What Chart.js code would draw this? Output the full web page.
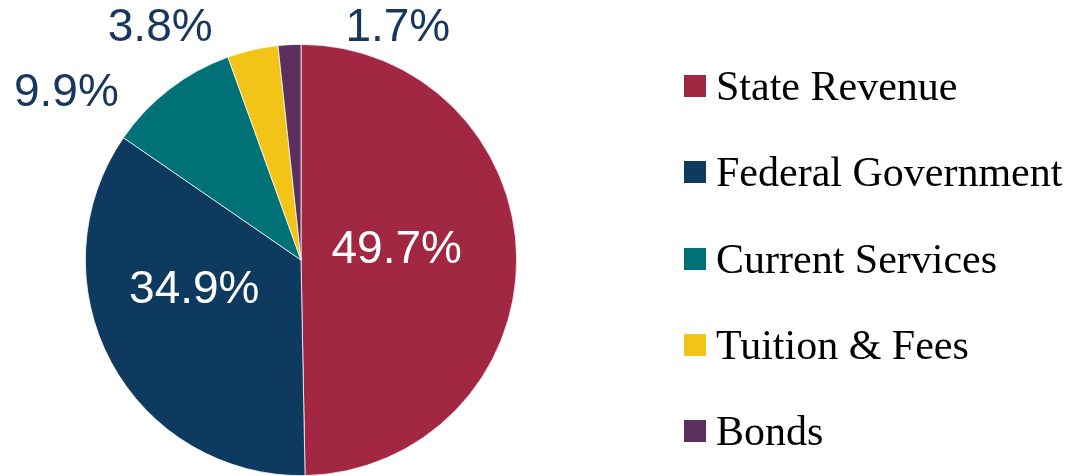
<!DOCTYPE html>
<html>
<head>
<meta charset="utf-8">
<script src="https://cdn.jsdelivr.net/npm/chart.js@4"></script>
<style>
  body { margin: 0; background: #fff; }
  #wrap { position: relative; width: 1079px; height: 476px; overflow: hidden; }
  #legend { position: absolute; left: 684px; top: 0; }
  .item { position: absolute; left: 0; height: 86px; display: flex; align-items: center; white-space: nowrap;
          font-family: "Liberation Serif", "DejaVu Serif", serif; font-size: 42px; line-height: 1; color: #000; }
  .box { width: 22px; height: 22px; margin-right: 10px; flex: none; }
</style>
</head>
<body>
<div id="wrap">
  <canvas id="pie"></canvas>
  <div id="legend"></div>
</div>
<script>
// 수입원 비율 (%)
const sources = ["State Revenue", "Federal Government", "Current Services", "Tuition & Fees", "Bonds"];
const shares = [49.7, 34.9, 9.9, 3.8, 1.7];
const sliceColors = ["#A12743", "#0F3A5F", "#007176", "#F2C418", "#5B2F5E"];

// label placement, in units of the pie radius from its centre
const labelOffsets = [[0.444, -0.046], [-0.495, 0.139], [-1.088, -0.773], [-0.653, -1.074], [0.449, -1.074]];
const labelColors = ["#ffffff", "#ffffff", "#17375E", "#17375E", "#17375E"];

const pctLabels = {
    id: 'pctLabels',
    afterDatasetsDraw(chart) {
        const ctx = chart.ctx;
        const arcs = chart.getDatasetMeta(0).data;
        ctx.save();
        ctx.font = '46px "Liberation Sans", Arial, sans-serif';
        ctx.textAlign = 'center';
        ctx.textBaseline = 'middle';
        arcs.forEach(function(arc, i) {
            const r = arc.outerRadius;
            ctx.fillStyle = labelColors[i];
            ctx.fillText(shares[i].toFixed(1) + '%', arc.x + labelOffsets[i][0] * r, arc.y + labelOffsets[i][1] * r);
        });
        ctx.restore();
    }
};

new Chart(document.getElementById('pie'), {
    type: 'pie',
    data: {
        labels: sources,
        datasets: [{
            data: shares,
            backgroundColor: sliceColors,
            borderColor: '#ffffff',
            borderWidth: 0.75
        }]
    },
    options: {
        responsive: true,
        maintainAspectRatio: false,
        animation: false,
        layout: { padding: { top: 44, bottom: 0, left: 85, right: 562 } },
        plugins: {
            legend: { display: false },
            tooltip: { enabled: false }
        }
    },
    plugins: [pctLabels]
});

// 범례
const legend = document.getElementById('legend');
for (let i = 0; i < sources.length; i++) {
    const item = document.createElement('div');
    item.className = 'item';
    item.style.top = (43 + i * 86.3) + 'px';
    const box = document.createElement('span');
    box.className = 'box';
    box.style.background = sliceColors[i];
    const txt = document.createElement('span');
    txt.textContent = sources[i];
    item.appendChild(box);
    item.appendChild(txt);
    legend.appendChild(item);
}
</script>
</body>
</html>
